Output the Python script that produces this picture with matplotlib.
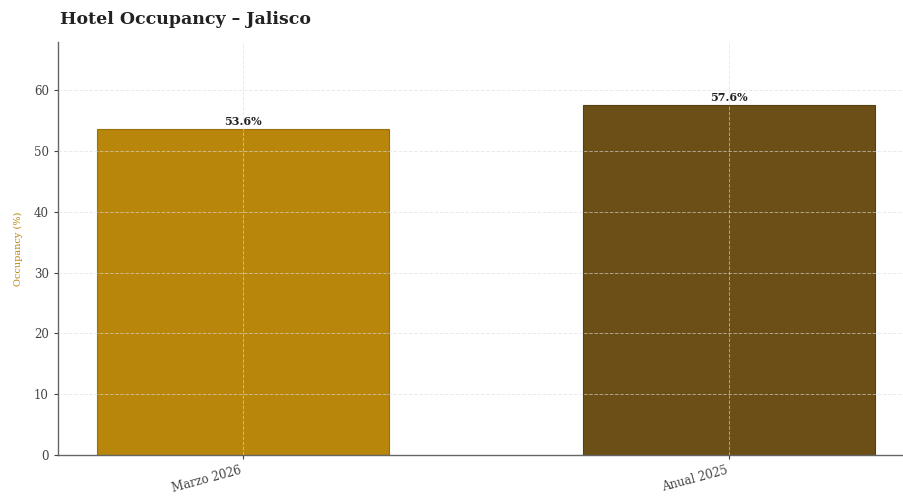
import matplotlib.pyplot as plt

# Ocupación hotelera en Jalisco
periods = ['Marzo 2026', 'Anual 2025']
occupancy = [53.6, 57.6]
bar_colors = ['#B8860B', '#6B4F17']

plt.rcParams['font.family'] = ['DejaVu Serif']

fig = plt.figure(figsize=(9.04, 4.97), dpi=100)
ax = fig.add_axes([58 / 904, 42 / 497, 846 / 904, 413 / 497])

x = range(len(periods))
bars = ax.bar(x, occupancy, width=0.6, color=bar_colors,
              edgecolor=['#9A7008', '#574010'], linewidth=0.8, zorder=2)

for b, v in zip(bars, occupancy):
    ax.text(b.get_x() + b.get_width() / 2, v + 0.4, f'{v:.1f}%',
            ha='center', va='bottom', fontsize=8, fontweight='bold',
            color='#222222', zorder=4)

ax.set_xlim(-0.38, 1.36)
ax.set_ylim(0, max(occupancy) * 1.18)
ax.set_xticks(list(x))
ax.set_xticklabels(periods, rotation=15, ha='right', fontsize=8.5, color='#444444')
ax.set_yticks(range(0, 61, 10))
ax.tick_params(axis='y', labelsize=8.5, colors='#444444', length=3)
ax.tick_params(axis='x', length=3, colors='#444444')
for lbl in ax.get_yticklabels():
    lbl.set_color('#444444')

ax.grid(True, linestyle='--', linewidth=0.7, color='#dddddd', alpha=0.6, zorder=3)
ax.set_axisbelow(False)

for s in ['top', 'right']:
    ax.spines[s].set_visible(False)
for s in ['left', 'bottom']:
    ax.spines[s].set_color('#666666')
    ax.spines[s].set_linewidth(1.0)

ax.set_ylabel('Occupancy (%)', fontsize=7, color='#B8860B', labelpad=8)
fig.text(60 / 904, 1 - 20 / 497, 'Hotel Occupancy – Jalisco', fontsize=12.5,
         fontweight='bold', color='#222222', va='center', ha='left')

fig.savefig('out.png', dpi=100)
